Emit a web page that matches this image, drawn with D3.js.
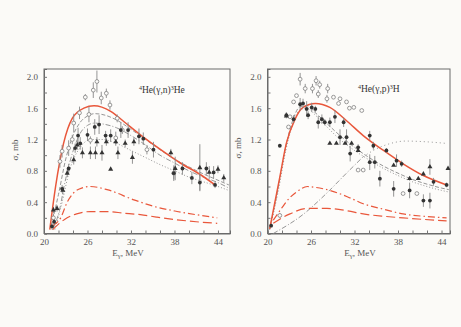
<!DOCTYPE html>
<html><head><meta charset="utf-8">
<script src="https://cdn.jsdelivr.net/npm/d3@7"></script>
<style>
html,body{margin:0;padding:0;background:#fbfaf7;}
svg{display:block;}
text{font-family:"Liberation Serif","DejaVu Serif",serif;fill:#555;}
</style></head><body>
<svg id="c" width="461" height="327"></svg>
<script>
// ---- data: left panel 4He(g,n)3He ----
const xTickLabels = [20, 26, 32, 38, 44];
const yTickLabels = [0.0, 0.4, 0.8, 1.2, 1.6, 2.0];

const L_open = [[27.3,1.94,0.14],[26.8,1.83,0.1],[28.6,1.79,0.06],[27.9,1.73,0.08],[25.7,1.74,0.04],[29.1,1.64,0.06],[26.2,1.52,0.1],[24.9,1.54,0.08],[30.1,1.47,0.05],[23.4,1.09,0.1],[22.5,1.05,0.08],[22.2,0.92,0.08],[30.8,1.32,0.05],[29.9,1.22,0.08],[26.4,1.19,0.05],[34.2,1.07,0.06],[37.9,0.77,0.1],[24.1,1.41,0.12],[21.3,0.2,0.05],[23.9,1.2,0.06]];
const L_filled = [[27,1.36,0.1],[27.6,1.39,0.12],[26,1.26,0.08],[28.5,1.25,0.06],[29.2,1.25,0.08],[30.6,1.32,0.1],[31.6,1.32,0.1],[33.1,1.24,0.1],[35.1,1.07,0.1],[37.9,0.77,0.08],[39.1,0.83,0.08],[40.4,0.71,0.08],[41.5,0.65,0.1],[42.4,0.83,0.08],[43.4,0.78,0.08],[43.6,0.62,0.04],[25,1.15,0.08],[24.3,1.09,0.06],[23.4,0.83,0.06],[22.5,0.57,0.05],[21.4,0.15,0.04],[21.1,0.09,0.04],[24.7,1.25,0.1],[33.7,1.21,0.08]];
const L_tri = [[26.4,1.03,0.08],[27.1,1.03,0.08],[28,1.03,0.1],[25.3,1.03,0.07],[24.1,0.94,0.06],[27.3,1.17,0.06],[28.6,1.17,0.05],[29.9,1.17,0.05],[30.2,1.03,0.08],[31.2,1.15,0.05],[32.4,1.17,0.05],[32.2,0.97,0.08],[29.2,0.82,0],[37.5,1.03,0.05],[41.5,0.84,0.3],[44,0.82,0.05],[44.8,0.71,0.05],[38.1,0.83,0.15],[23.2,0.77,0.05],[21.8,0.32,0.04],[21.3,0.3,0.04],[22.6,0.55,0.05],[24.6,1.13,0.06],[42.8,0.78,0.08]];
const L_red = [[20.8,0.05],[21.6,0.6],[22.7,1.15],[23.9,1.47],[25.5,1.6],[26.9,1.63],[29.2,1.56],[31,1.43],[33.3,1.26],[36.1,1.07],[38.8,0.9],[41.6,0.75],[43.6,0.62]];
const L_redDashDot = [[21.2,0.1],[22.3,0.2],[23.2,0.4],[24.1,0.52],[25.2,0.58],[26.4,0.6],[28.7,0.56],[32.4,0.43],[35,0.35],[37.9,0.29],[41,0.24],[43.9,0.2]];
const L_redDash = [[21.2,0.05],[22,0.12],[23.2,0.2],[24.5,0.25],[26.4,0.28],[28.7,0.28],[31,0.26],[33.3,0.24],[35.5,0.21],[37.9,0.18],[41,0.15],[43.9,0.13]];
const L_grayDash = [[21,0.1],[22,0.5],[23,0.95],[24,1.25],[25,1.42],[26,1.5],[27,1.53],[28,1.52],[30,1.45],[32,1.33],[34,1.2],[36,1.07],[38,0.95],[40,0.85],[42,0.76],[44,0.68],[45.5,0.62]];
const L_grayDashDot = [[21.2,0.05],[22,0.25],[23,0.7],[24,1.05],[25,1.28],[26,1.38],[27,1.41],[28,1.4],[30,1.35],[32,1.25],[34,1.13],[36,1.0],[38,0.9],[40,0.8],[42,0.72],[44,0.65],[45.5,0.58]];
const L_grayDot = [[21.5,0.05],[22.5,0.4],[23.5,0.8],[25,1.1],[26.5,1.2],[28,1.2],[30,1.15],[32,1.06],[34,0.97],[36,0.88],[38,0.8],[40,0.72],[42,0.66],[44,0.6],[45.5,0.55]];

// ---- data: right panel 4He(g,p)3H ----
const R_open = [[24.5,1.97,0.08],[25.2,1.85,0.06],[26.2,1.85,0.06],[26.7,1.95,0.06],[27.2,1.9,0.05],[28.3,1.85,0.06],[27,1.78,0.05],[28.2,1.72,0.05],[29.1,1.74,0],[30,1.72,0],[30.9,1.68,0],[31.9,1.61,0],[33,1.57,0],[24,1.76,0],[23.6,1.68,0],[23.1,1.49,0],[22.9,1.36,0],[21.7,0.23,0.03],[32.5,0.81,0],[33.2,0.81,0],[38.7,0.51,0],[40.6,0.51,0],[29.8,1.66,0],[31.3,1.6,0]];
const R_filled = [[21.7,1.12,0],[22.6,1.51,0.04],[23.6,1.46,0.05],[24.5,1.65,0.08],[24.9,1.66,0.06],[25.4,1.59,0.1],[25.6,1.51,0.05],[26.1,1.61,0.06],[26.6,1.59,0.04],[27,1.42,0.08],[27.5,1.46,0.06],[27.9,1.42,0.04],[28.6,1.42,0.06],[29.3,1.49,0.08],[30.5,1.42,0.06],[30,1.23,0.1],[30.9,1.23,0.1],[31.4,1.02,0.1],[32.5,1.1,0.04],[34.1,1.25,0.06],[34.1,0.91,0.1],[34.6,1.12,0.05],[34.8,0.91,0.08],[35.5,0.7,0.1],[36.4,1.06,0.03],[37.4,0.57,0.1],[37.8,0.93,0.08],[38.5,0.89,0.04],[39.6,0.55,0.1],[41.5,0.42,0.08],[42.4,0.42,0.1],[42.9,0.66,0.05],[44.7,0.62,0.03],[20.5,0.1,0.02]];
const R_tri = [[28.6,1.15,0],[29.5,1.15,0],[30.7,1.15,0],[31.6,1.15,0],[32.5,1.06,0],[40.8,0.7,0],[42.4,0.85,0.1],[44.9,0.83,0],[37.4,0.87,0],[39.6,0.7,0],[41.5,0.76,0],[22.6,1.5,0]];
const R_red = [[20.3,0.06],[21.7,0.72],[22.6,1.15],[23.8,1.46],[24.9,1.61],[26.6,1.66],[28.6,1.61],[30.9,1.44],[33.2,1.25],[36,1.06],[38.7,0.89],[41.5,0.74],[44.7,0.62]];
const R_redDashDot = [[20.8,0.17],[22,0.33],[23,0.45],[24,0.53],[25.5,0.6],[26.5,0.59],[28.6,0.55],[31,0.47],[33.2,0.38],[36,0.31],[38.7,0.25],[41.5,0.22],[44.7,0.2]];
const R_redDash = [[20.8,0.13],[22,0.2],[23.1,0.25],[25.4,0.32],[28.2,0.32],[31,0.29],[33.2,0.25],[36,0.22],[38.7,0.2],[41.5,0.18],[44.7,0.16]];
const R_grayDash = [[20.3,0.05],[21.5,0.6],[22.5,1.1],[23.5,1.45],[24.5,1.62],[25.5,1.63],[26.5,1.55],[28,1.42],[30,1.25],[32,1.1],[34,0.97],[36,0.86],[38,0.77],[40,0.69],[42,0.63],[44,0.58],[45,0.56]];
const R_grayDot = [[20.3,0.05],[21.5,0.55],[22.5,1.05],[23.5,1.4],[24.5,1.58],[25.5,1.6],[26.5,1.52],[28,1.38],[30,1.2],[32,1.06],[34,0.94],[36,0.83],[38,0.74],[40,0.66],[42,0.6],[44,0.55],[45,0.53]];
const R_grayRise = [[20.8,0],[25,0.25],[28,0.5],[31,0.78],[33.2,0.98]];
const R_grayPlateau = [[33.2,0.98],[35,1.08],[37,1.15],[39,1.18],[42,1.17],[44.7,1.15]];

// ---- build panels ----
const svg = d3.select("#c");
const RED = "#e9573b", GRAY = "#8a8a8a";

const panels = [
  {x0:44, x1:230, xmax:45.66, title:["4","He(γ,n)","3","He"], tx:139, ty:93, ylabX:15, ylabY:150, xlabX:128,
   open:L_open, filled:L_filled, tri:L_tri,
   lines:[
     {d:L_grayDot, c:GRAY, w:0.9, dash:"1,2"},
     {d:L_grayDashDot, c:GRAY, w:0.9, dash:"5,2,1,2"},
     {d:L_grayDash, c:GRAY, w:0.9, dash:"4,2"},
     {d:L_redDash, c:RED, w:1.2, dash:"9,4"},
     {d:L_redDashDot, c:RED, w:1.2, dash:"7,3,1.5,3"},
     {d:L_red, c:RED, w:1.5, dash:null}]},
  {x0:267.5, x1:450, xmax:45.17, title:["4","He(γ,p)","3","H"], tx:358, ty:92, ylabX:238, ylabY:148, xlabX:360,
   open:R_open, filled:R_filled, tri:R_tri,
   lines:[
     {d:R_grayRise, c:GRAY, w:0.9, dash:"5,2,1,2"},
     {d:R_grayPlateau, c:GRAY, w:0.9, dash:"1,3"},
     {d:R_grayDot, c:GRAY, w:0.9, dash:"1,2"},
     {d:R_grayDash, c:GRAY, w:0.9, dash:"4,2"},
     {d:R_redDash, c:RED, w:1.2, dash:"9,4"},
     {d:R_redDashDot, c:RED, w:1.2, dash:"7,3,1.5,3"},
     {d:R_red, c:RED, w:1.5, dash:null}]}
];

panels.forEach(p => {
  const x = d3.scaleLinear().domain([20, p.xmax]).range([p.x0, p.x1]);
  const y = d3.scaleLinear().domain([0, 2.1]).range([233.5, 69]);
  const g = svg.append("g");

  g.append("rect").attr("x", p.x0).attr("y", 69).attr("width", p.x1 - p.x0).attr("height", 233.5 - 69)
    .attr("fill", "#fdfcfa").attr("stroke", "#6a6a6a").attr("stroke-width", 1);

  const xa = d3.axisBottom(x).tickValues(d3.range(20, p.xmax, 2)).tickSize(-3)
    .tickFormat(d => xTickLabels.includes(d) ? d : "");
  const gx = g.append("g").attr("transform", "translate(0,233.5)").call(xa);
  gx.select(".domain").attr("stroke", "#6a6a6a");
  gx.selectAll(".tick line").attr("stroke", "#777");
  gx.selectAll("text").attr("dy", "0.9em").attr("y", 3).style("font-size", "9px").style("fill", "#555").style("font-family", "'Liberation Serif', serif");

  const ya = d3.axisLeft(y).tickValues(d3.range(0, 2.01, 0.2)).tickSize(-3)
    .tickFormat(d => yTickLabels.some(v => Math.abs(v - d) < 1e-6) ? d3.format(".1f")(d) : "");
  const gy = g.append("g").attr("transform", `translate(${p.x0},0)`).call(ya);
  gy.select(".domain").attr("stroke", "#6a6a6a");
  gy.selectAll(".tick line").attr("stroke", "#777");
  gy.selectAll("text").attr("x", -6).style("font-size", "9px").style("fill", "#555").style("font-family", "'Liberation Serif', serif");

  const line = d3.line().x(d => x(d[0])).y(d => y(d[1])).curve(d3.curveMonotoneX);
  p.lines.forEach(l => {
    g.append("path").attr("d", line(l.d)).attr("fill", "none").attr("stroke", l.c)
      .attr("stroke-width", l.w).attr("stroke-dasharray", l.dash);
  });

  const all = [...p.open, ...p.filled, ...p.tri].filter(d => d[2] > 0);
  g.selectAll(null).data(all).join("line")
    .attr("x1", d => x(d[0])).attr("x2", d => x(d[0]))
    .attr("y1", d => y(d[1] - d[2])).attr("y2", d => y(d[1] + d[2]))
    .attr("stroke", "#888").attr("stroke-width", 0.9);

  g.selectAll(null).data(p.open).join("circle")
    .attr("cx", d => x(d[0])).attr("cy", d => y(d[1])).attr("r", 1.9)
    .attr("fill", "#fdfcfa").attr("stroke", "#808080").attr("stroke-width", 0.8);
  g.selectAll(null).data(p.filled).join("circle")
    .attr("cx", d => x(d[0])).attr("cy", d => y(d[1])).attr("r", 1.9)
    .attr("fill", "#333");
  const tri = d3.symbol().type(d3.symbolTriangle).size(11);
  g.selectAll(null).data(p.tri).join("path")
    .attr("transform", d => `translate(${x(d[0])},${y(d[1])})`).attr("d", tri)
    .attr("fill", "#333");

  const t = g.append("text").attr("x", p.tx).attr("y", p.ty).style("font-size", "9.5px").style("fill", "#333");
  t.append("tspan").attr("dy", "-3").style("font-size", "6px").text(p.title[0]);
  t.append("tspan").attr("dy", "3").text(p.title[1]);
  t.append("tspan").attr("dy", "-3").style("font-size", "6px").text(p.title[2]);
  t.append("tspan").attr("dy", "3").text(p.title[3]);

  g.append("text").attr("transform", `translate(${p.ylabX},${p.ylabY}) rotate(-90)`)
    .attr("text-anchor", "middle").attr("dy", "0.35em").style("font-size", "9px").text("σ, mb");

  const xl = g.append("text").attr("x", p.xlabX).attr("y", 256).attr("text-anchor", "middle").style("font-size", "9px");
  xl.append("tspan").text("E");
  xl.append("tspan").attr("dy", "2").style("font-size", "6.5px").text("γ");
  xl.append("tspan").attr("dy", "-2").text(",  MeV");
});
</script>
</body></html>
